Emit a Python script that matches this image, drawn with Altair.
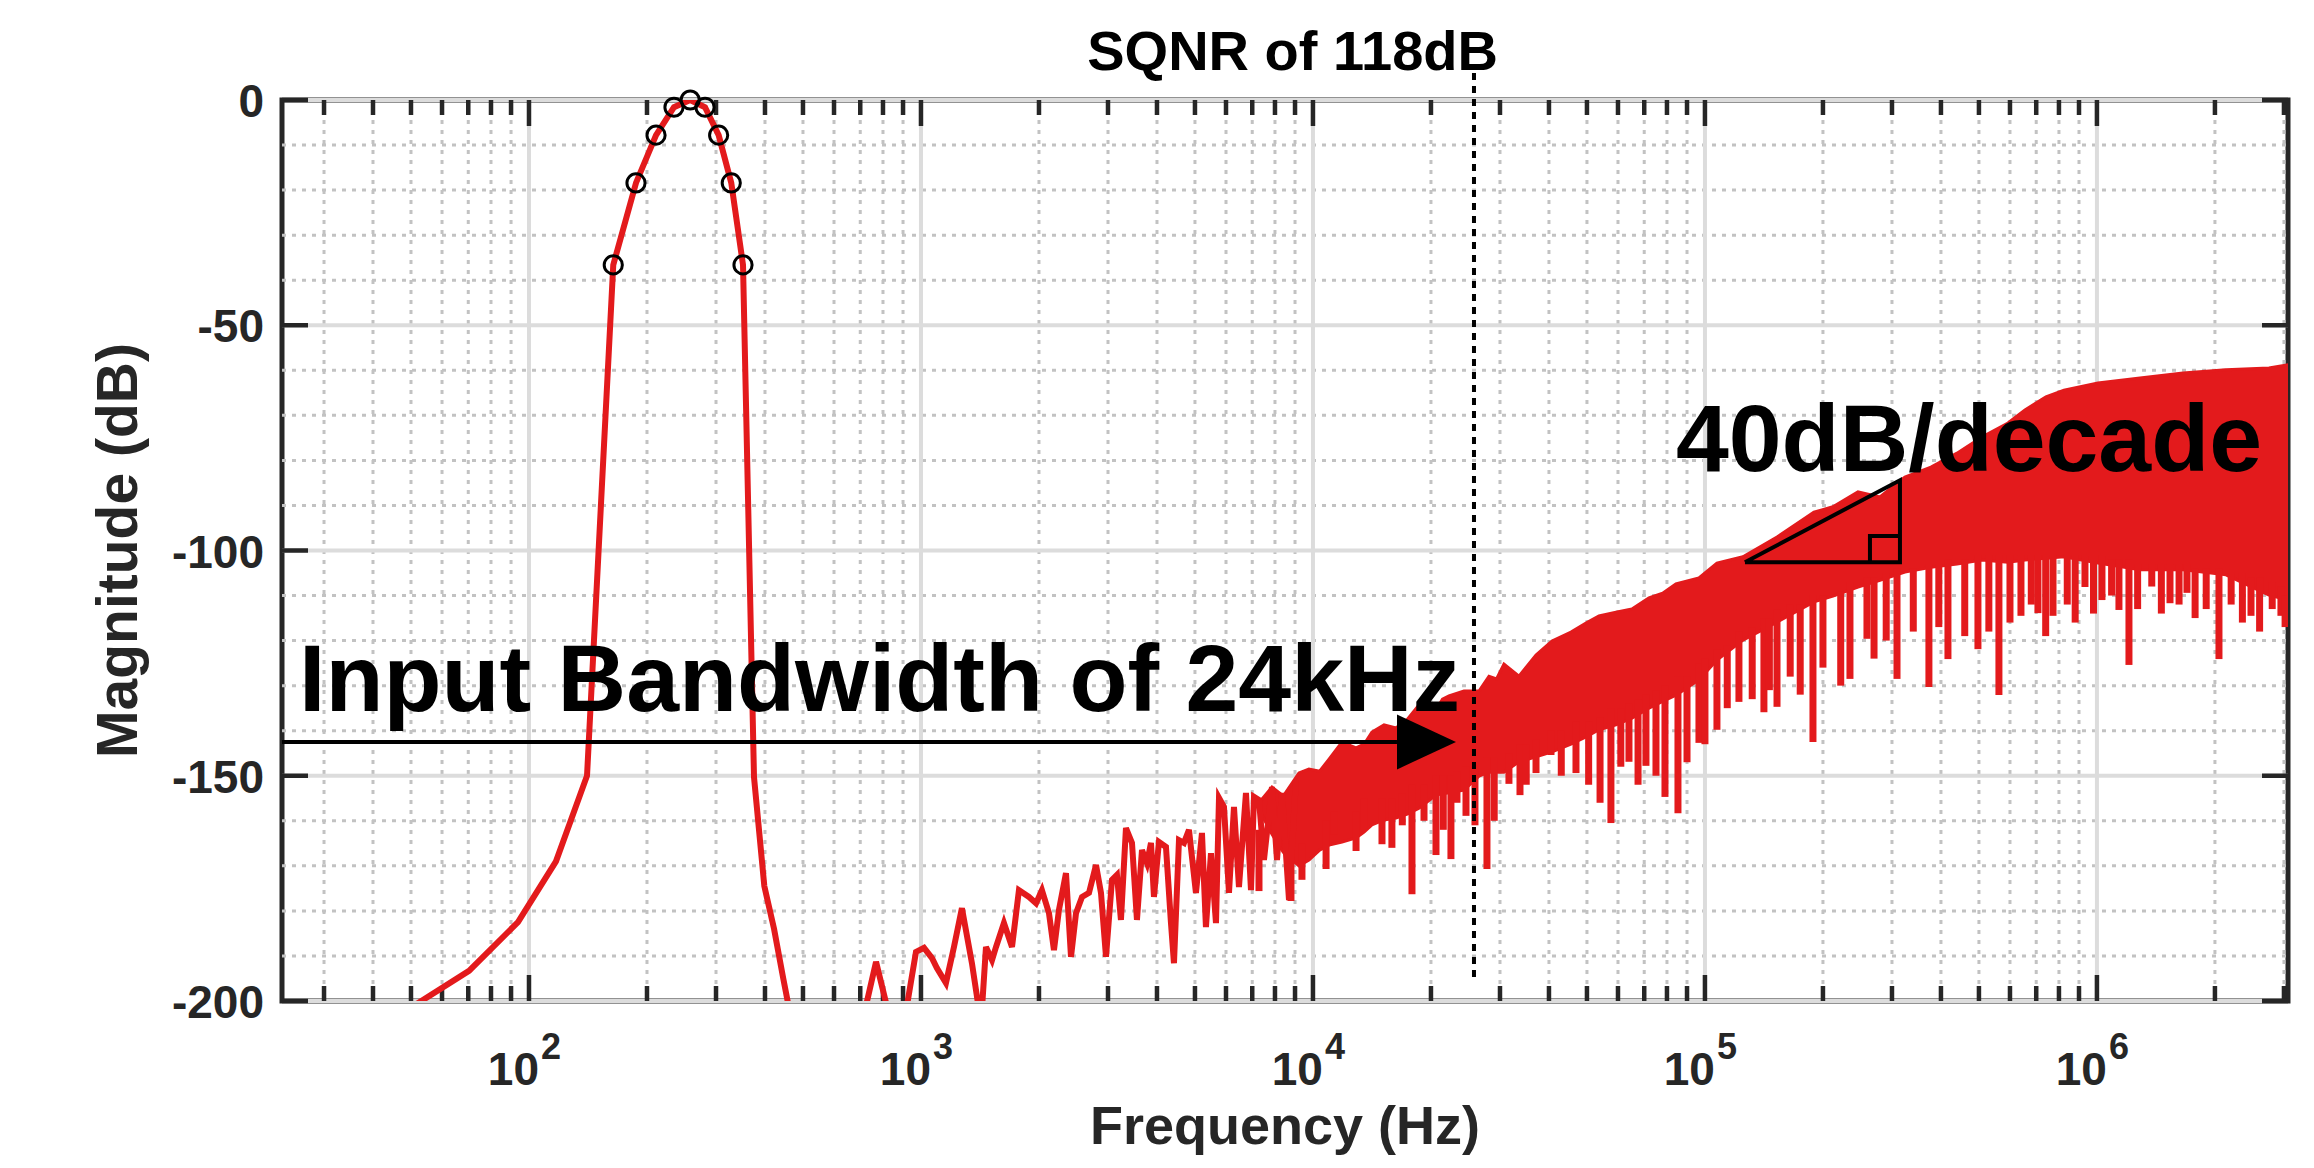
import altair as alt
import pandas as pd

RED = "#e31a1c"
AX = "#262626"
FONT = "Liberation Sans"

# ---------------- data ----------------
F_MIN, F_MAX = 23.4375, 3072000

# tone (FFT bins, 23.4375 Hz spacing)
PEAK_F = [46.875, 70.3125, 93.75, 117.1875, 140.625, 164.0625, 187.5, 210.9375,
          234.375, 257.8125, 281.25, 304.6875, 328.125, 351.5625, 375.0, 398.4375,
          421.875, 445.3125, 468.75]
PEAK_DB = [-203, -193.3, -182.5, -169, -150, -36.6, -18.4, -7.8, -1.6, 0, -1.6,
           -7.8, -18.4, -36.6, -150.3, -174.5, -184, -195, -205]

MARK_F = [164.0625, 187.5, 210.9375, 234.375, 257.8125, 281.25, 304.6875, 328.125, 351.5625]
MARK_DB = [-36.6, -18.4, -7.8, -1.6, 0, -1.6, -7.8, -18.4, -36.6]

# shaped noise, low-frequency part (single trace)
NOISE_F = [707, 768, 839, 905, 971, 1018, 1067, 1098, 1158, 1214, 1272, 1349, 1423, 1465,
           1518, 1554, 1628, 1707, 1778, 1886, 1966, 2035, 2121, 2184, 2249, 2344, 2414,
           2486, 2575, 2683, 2796, 2879, 2965, 3071, 3162, 3237, 3334, 3454, 3556, 3663,
           3772, 3862, 3930, 4046, 4217, 4343, 4420, 4552, 4687, 4827, 5029, 5210, 5333,
           5493, 5657, 5758, 5929, 6106, 6288, 6475, 6747, 6948, 7072, 7283, 7499, 7861,
           8095, 8337, 8687, 9049]
NOISE_DB = [-205, -191.3, -205, -205, -189.1, -188.2, -190.5, -192.7, -196.0, -188.0,
            -179.4, -191.6, -205, -188.0, -190.9, -188.0, -182.7, -188.0, -175.4, -176.9,
            -178.3, -175.4, -180.5, -188.7, -179.8, -171.6, -190.2, -180.5, -176.9, -176.0,
            -169.8, -176.0, -190.2, -173.1, -172.0, -182.0, -161.6, -164.9, -182.0, -166.5,
            -169.4, -164.9, -176.9, -164.7, -165.8, -182.7, -191.6, -164.3, -164.9, -162.0,
            -176.0, -162.7, -183.6, -167.2, -182.7, -154.9, -156.9, -176.0, -156.9, -174.7,
            -153.8, -175.4, -154.7, -155.4, -168.7, -152.5, -168.7, -153.8, -177.6, -150.9]

# shaped noise, dense part: upper / lower edge of the solid band
BAND_F = [7283, 7861, 8400, 9210, 9768, 10400, 10990, 11860, 12880, 13500, 14140, 15180,
          16280, 17400, 18640, 20600, 21400, 22230, 24280, 26520, 28120, 29400, 30710,
          33540, 37070, 40720, 45520, 49720, 53660, 59290, 65120, 71970, 78000, 84340,
          96540, 107300, 125000, 152700, 189700, 212100, 245700, 279500, 323700, 377100,
          439600, 508800, 592900, 655200, 741300, 824000, 1006000, 1288000, 1658000,
          2134000, 2747000, 3072000]
BAND_HI = [-156.0, -152.5, -154.5, -149.4, -148.5, -149.0, -146.3, -142.5, -143.8, -143.0,
           -140.3, -138.7, -139.4, -137.5, -134.3, -135.4, -133.0, -132.3, -131.2, -131.2,
           -127.9, -128.5, -125.2, -127.9, -123.2, -120.1, -118.1, -116.1, -114.5, -113.7,
           -113.0, -110.5, -109.5, -107.4, -106.1, -102.8, -101.4, -97.0, -91.5, -90.3,
           -87.0, -88.1, -83.7, -81.5, -78.4, -74.8, -71.7, -68.8, -65.9, -64.4, -62.8,
           -61.7, -60.6, -59.9, -59.5, -58.8]
BAND_LO = [-157.5, -163.0, -167.0, -170.0, -168.7, -166.5, -165.4, -164.7, -163.8, -162.5,
           -160.9, -159.8, -159.4, -158.5, -157.2, -154.3, -154.0, -153.8, -153.2, -150.1,
           -149.2, -149.2, -149.2, -146.9, -145.8, -144.7, -143.0, -141.4, -139.8, -138.7,
           -137.2, -135.0, -133.5, -132.1, -128.7, -124.3, -119.9, -115.9, -111.4, -110.1,
           -108.1, -106.6, -104.8, -103.7, -103.0, -102.1, -102.6, -102.1, -101.7, -101.4,
           -102.8, -104.3, -104.3, -105.4, -109.9, -111.0]

# downward spikes of the dense part
SPIKE_F = [7283, 8788, 9374, 10800, 11300, 12880, 13500, 15000, 15900, 16900, 17890, 19200,
           20600, 21500, 22490, 23300, 24570, 25900, 27790, 29000, 31620, 33740, 35000,
           37070, 40480, 43000, 46880, 50500, 54000, 57560, 61000, 64000, 67500, 70710,
           75000, 79070, 85340, 90000, 96540, 100000, 107300, 114000, 122100, 132000,
           141400, 146000, 152700, 165000, 175000, 188600, 200000, 222000, 234400, 259000,
           270000, 290000, 309000, 340000, 372700, 395000, 416800, 460000, 497100, 530000,
           562300, 600000, 640000, 680000, 707100, 740000, 772500, 840000, 880000, 932100,
           980000, 1030000, 1090000, 1138000, 1207000, 1270000, 1380000, 1460000, 1536000,
           1620000, 1697000, 1780000, 1900000, 2048000, 2200000, 2350000, 2472000, 2600000,
           2800000, 2947000, 3020000]
SPIKE_LO = [-175.6, -177.8, -173.1, -170.7, -163.0, -166.7, -162.0, -165.2, -166.0, -161.0,
            -176.3, -160.0, -167.6, -162.0, -168.5, -156.0, -158.9, -161.0, -170.7, -160.0,
            -151.8, -154.3, -152.0, -149.4, -145.4, -150.0, -149.4, -152.0, -156.0, -160.5,
            -148.0, -146.9, -152.0, -147.8, -150.0, -154.7, -158.3, -147.0, -142.7, -143.0,
            -139.8, -135.0, -133.6, -133.0, -135.9, -131.0, -134.7, -128.0, -132.0, -142.5,
            -126.0, -130.0, -128.5, -119.6, -124.0, -120.0, -128.5, -118.0, -130.3, -117.0,
            -124.1, -119.0, -121.9, -118.0, -132.1, -116.0, -114.5, -112.0, -113.9, -119.0,
            -114.5, -112.0, -116.0, -108.1, -114.0, -111.0, -110.0, -113.2, -125.4, -113.0,
            -108.0, -114.0, -111.7, -112.0, -109.4, -115.0, -113.0, -124.1, -112.0, -116.0,
            -114.5, -118.0, -113.0, -114.5, -117.0]
SPIKE_HI = [-162, -165, -165, -160, -158, -158, -155, -155, -155, -154, -152, -152, -150,
            -150, -150, -149, -148, -148, -146, -146, -145, -143, -143, -142, -140, -140,
            -138, -138, -137, -135, -135, -134, -133, -132, -131, -130, -128, -128, -125,
            -124, -122, -121, -118, -117, -115, -115, -113, -112, -112, -110, -110, -109,
            -107, -106, -106, -105, -104, -104, -103, -103, -102, -102, -101, -101, -101,
            -101, -101, -101, -101, -101, -101, -101, -101, -101, -101, -101, -102, -102,
            -102, -103, -103, -103, -103, -103, -103, -104, -104, -104, -105, -105, -106,
            -106, -107, -108, -110]

# axes
X_MAJOR = [100, 1000, 10000, 100000, 1000000]
X_EXP = ["2", "3", "4", "5", "6"]
X_MINOR = [30, 40, 50, 60, 70, 80, 90,
           200, 300, 400, 500, 600, 700, 800, 900,
           2000, 3000, 4000, 5000, 6000, 7000, 8000, 9000,
           20000, 30000, 40000, 50000, 60000, 70000, 80000, 90000,
           200000, 300000, 400000, 500000, 600000, 700000, 800000, 900000,
           2000000, 3000000]
Y_MAJOR = [0, -50, -100, -150, -200]
Y_LABELS = ["0", "-50", "-100", "-150", "-200"]
Y_MINOR = [-10, -20, -30, -40, -60, -70, -80, -90, -110, -120, -130, -140,
           -160, -170, -180, -190]

# ---------------- chart ----------------
W, H = 2006, 901
xs = alt.Scale(type="log", domain=[F_MIN, F_MAX], nice=False)
ys = alt.Scale(domain=[-200, 0], nice=False)


def X(field="f"):
    return alt.X(f"{field}:Q", scale=xs, axis=None)


def Y(field):
    return alt.Y(f"{field}:Q", scale=ys, axis=None)


df_xmaj = pd.DataFrame({"f": X_MAJOR, "e": X_EXP})
df_xmin = pd.DataFrame({"f": X_MINOR})
df_ymaj = pd.DataFrame({"v": Y_MAJOR, "t": Y_LABELS})
df_ymin = pd.DataFrame({"v": Y_MINOR})

GMIN = "#c2c2c2"
grid = [
    alt.Chart(df_xmin).mark_rule(color=GMIN, strokeWidth=3, strokeDash=[4, 6])
    .encode(x=X(), y=alt.value(0), y2=alt.value(H)),
    alt.Chart(df_ymin).mark_rule(color=GMIN, strokeWidth=3, strokeDash=[4, 6])
    .encode(y=Y("v"), x=alt.value(0), x2=alt.value(W)),
    alt.Chart(df_xmaj).mark_rule(color="#dcdcdc", strokeWidth=4)
    .encode(x=X(), y=alt.value(0), y2=alt.value(H)),
    alt.Chart(df_ymaj).mark_rule(color="#dcdcdc", strokeWidth=4)
    .encode(y=Y("v"), x=alt.value(0), x2=alt.value(W)),
]

ticks = [
    alt.Chart(df_xmaj).mark_rule(color=AX, strokeWidth=4.5)
    .encode(x=X(), y=alt.value(H), y2=alt.value(H - 26)),
    alt.Chart(df_xmaj).mark_rule(color=AX, strokeWidth=4.5)
    .encode(x=X(), y=alt.value(0), y2=alt.value(26)),
    alt.Chart(df_xmin).mark_rule(color=AX, strokeWidth=4.5)
    .encode(x=X(), y=alt.value(H), y2=alt.value(H - 15)),
    alt.Chart(df_xmin).mark_rule(color=AX, strokeWidth=4.5)
    .encode(x=X(), y=alt.value(0), y2=alt.value(15)),
    alt.Chart(df_ymaj).mark_rule(color=AX, strokeWidth=4.5)
    .encode(y=Y("v"), x=alt.value(0), x2=alt.value(26)),
    alt.Chart(df_ymaj).mark_rule(color=AX, strokeWidth=4.5)
    .encode(y=Y("v"), x=alt.value(W), x2=alt.value(W - 26)),
]

df_peak = pd.DataFrame({"f": PEAK_F, "db": PEAK_DB})
df_noise = pd.DataFrame({"f": NOISE_F, "db": NOISE_DB})
df_band = pd.DataFrame({"f": BAND_F, "hi": BAND_HI, "lo": BAND_LO})
df_spk = pd.DataFrame({"f": SPIKE_F, "lo": SPIKE_LO, "hi": SPIKE_HI})
df_mk = pd.DataFrame({"f": MARK_F, "db": MARK_DB})

data_layers = [
    alt.Chart(df_band).mark_area(color=RED, clip=True, opacity=1, stroke=RED,
                                 strokeWidth=3)
    .encode(x=X(), y=Y("hi"), y2=alt.Y2("lo")),
    alt.Chart(df_spk).mark_rule(color=RED, strokeWidth=7, clip=True)
    .encode(x=X(), y=Y("lo"), y2=alt.Y2("hi")),
    alt.Chart(df_noise).mark_line(color=RED, strokeWidth=6, clip=True)
    .encode(x=X(), y=Y("db")),
    alt.Chart(df_peak).mark_line(color=RED, strokeWidth=6, clip=True)
    .encode(x=X(), y=Y("db")),
    alt.Chart(df_mk).mark_point(shape="circle", filled=False, color="black", size=330,
                                strokeWidth=3, opacity=1)
    .encode(x=X(), y=Y("db")),
]

# annotations (data coordinates)
df_sq = pd.DataFrame({"f": [25750], "top": [6.0], "bot": [-194.7]})
df_arrow = pd.DataFrame({"f0": [F_MIN], "f1": [16380], "db": [-142.5]})
df_head = pd.DataFrame({"f": [19480], "db": [-142.5]})
df_tri = pd.DataFrame({"f": [126500, 314400, 314400, 126500],
                       "db": [-102.6, -84.4, -102.6, -102.6], "i": [0, 1, 2, 3]})
df_box = pd.DataFrame({"f": [263600, 263600, 314400], "db": [-102.6, -96.8, -96.8],
                       "i": [0, 1, 2]})

txt = dict(font=FONT, fontWeight="bold", color="black")
annot = [
    alt.Chart(df_sq).mark_rule(color="black", strokeWidth=4, strokeDash=[7, 6])
    .encode(x=X(), y=Y("top"), y2=alt.Y2("bot")),
    alt.Chart(df_arrow).mark_rule(color="black", strokeWidth=4)
    .encode(x=alt.X("f0:Q", scale=xs, axis=None), x2="f1:Q", y=Y("db")),
    alt.Chart(df_head).mark_point(shape="M-1,-0.93L1,0L-1,0.93Z", filled=True,
                                  color="black", size=3481, opacity=1, strokeWidth=0)
    .encode(x=X(), y=Y("db")),
    alt.Chart(df_tri).mark_line(color="black", strokeWidth=4, strokeJoin="miter")
    .encode(x=X(), y=Y("db"), order="i:Q"),
    alt.Chart(df_box).mark_line(color="black", strokeWidth=4, strokeJoin="miter")
    .encode(x=X(), y=Y("db"), order="i:Q"),
    alt.Chart(pd.DataFrame({"f": [25750], "db": [6.7], "t": ["SQNR of 118dB"]}))
    .mark_text(align="right", baseline="alphabetic", dx=24, fontSize=56, **txt)
    .encode(x=X(), y=Y("db"), text="t:N"),
    alt.Chart(pd.DataFrame({"f": [25.9], "db": [-135.6], "t": ["Input Bandwidth of 24kHz"]}))
    .mark_text(align="left", baseline="alphabetic", fontSize=95, **txt)
    .encode(x=X(), y=Y("db"), text="t:N"),
    alt.Chart(pd.DataFrame({"f": [84340], "db": [-82.4], "t": ["40dB/decade"]}))
    .mark_text(align="left", baseline="alphabetic", fontSize=95, **txt)
    .encode(x=X(), y=Y("db"), text="t:N"),
]

lab = dict(font=FONT, fontWeight="bold", color=AX)
labels = [
    alt.Chart(df_xmaj).mark_text(text="10", align="right", baseline="alphabetic", dx=10,
                                 fontSize=46, **lab)
    .encode(x=X(), y=alt.value(H + 84)),
    alt.Chart(df_xmaj).mark_text(align="left", baseline="alphabetic", dx=12,
                                 fontSize=36, **lab)
    .encode(x=X(), y=alt.value(H + 58), text="e:N"),
    alt.Chart(df_ymaj).mark_text(align="right", baseline="middle", dx=-18, dy=3,
                                 fontSize=46, **lab)
    .encode(x=alt.value(0), y=Y("v"), text="t:N"),
    alt.Chart(pd.DataFrame({"t": ["Frequency (Hz)"]}))
    .mark_text(align="center", baseline="alphabetic", fontSize=54, **lab)
    .encode(x=alt.value(W / 2), y=alt.value(H + 143), text="t:N"),
    alt.Chart(pd.DataFrame({"t": ["Magnitude (dB)"]}))
    .mark_text(align="center", baseline="alphabetic", angle=270, fontSize=57, **lab)
    .encode(x=alt.value(-145), y=alt.value(H / 2), text="t:N"),
]

chart = alt.layer(*grid, *ticks, *data_layers, *annot, *labels).properties(
    width=W,
    height=H,
    background="white",
    autosize=alt.AutoSizeParams(type="none"),
    padding={"left": 274, "top": 92, "right": 16, "bottom": 157},
).configure_view(stroke=AX, strokeWidth=5)

chart.save("out.html", embed_options={"renderer": "svg", "actions": False})
